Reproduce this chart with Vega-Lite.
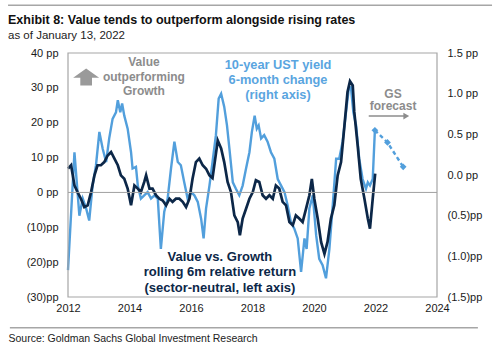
{
  "$schema": "https://vega.github.io/schema/vega-lite/v6.json",
  "width": 369,
  "height": 244,
  "autosize": {"type": "none"},
  "padding": {"left": 68, "top": 53, "right": 63, "bottom": 55},
  "background": "white",
  "config": {
    "view": {"stroke": null},
    "font": "Liberation Sans",
    "axis": {"grid": false, "domain": false, "ticks": false, "labelFont": "Liberation Sans", "labelFontSize": 11, "labelColor": "#1a1a1a", "labelOverlap": false}
  },
  "title": {
    "text": "Exhibit 8: Value tends to outperform alongside rising rates",
    "subtitle": "as of January 13, 2022",
    "anchor": "start",
    "frame": "group",
    "dx": -60,
    "offset": -37.5,
    "font": "Liberation Sans",
    "fontSize": 12.5,
    "fontWeight": "bold",
    "color": "#111111",
    "subtitleFont": "Liberation Sans",
    "subtitleFontSize": 11.5,
    "subtitleColor": "#222222",
    "subtitlePadding": 4
  },
  "datasets": {
    "one": [{"k": 1}],
    "ust": [
      {"t":2012.00,"v":-1.17},{"t":2012.21,"v":0.28},{"t":2012.31,"v":-0.21},{"t":2012.37,"v":-0.50},{"t":2012.48,"v":-0.29},{"t":2012.59,"v":-0.41},{"t":2012.69,"v":-0.56},{"t":2012.80,"v":-0.13},{"t":2012.91,"v":0.12},{"t":2013.02,"v":0.53},{"t":2013.13,"v":0.32},{"t":2013.24,"v":0.16},{"t":2013.34,"v":0.45},{"t":2013.45,"v":0.69},{"t":2013.56,"v":0.77},{"t":2013.62,"v":0.92},{"t":2013.70,"v":0.77},{"t":2013.76,"v":0.88},{"t":2013.83,"v":0.73},{"t":2013.94,"v":0.57},{"t":2014.05,"v":0.28},{"t":2014.10,"v":0.08},{"t":2014.21,"v":0.10},{"t":2014.27,"v":-0.13},{"t":2014.37,"v":-0.29},{"t":2014.48,"v":-0.25},{"t":2014.59,"v":-0.21},{"t":2014.70,"v":-0.29},{"t":2014.81,"v":-0.25},{"t":2014.92,"v":-0.29},{"t":2015.02,"v":-0.91},{"t":2015.13,"v":-0.45},{"t":2015.24,"v":-0.29},{"t":2015.35,"v":0.08},{"t":2015.46,"v":0.41},{"t":2015.57,"v":0.16},{"t":2015.67,"v":0.12},{"t":2015.78,"v":-0.09},{"t":2015.89,"v":-0.29},{"t":2016.00,"v":-0.21},{"t":2016.11,"v":-0.25},{"t":2016.22,"v":-0.33},{"t":2016.33,"v":-0.54},{"t":2016.41,"v":-0.78},{"t":2016.49,"v":-0.41},{"t":2016.60,"v":-0.13},{"t":2016.70,"v":0.16},{"t":2016.81,"v":0.49},{"t":2016.90,"v":0.94},{"t":2016.98,"v":1.00},{"t":2017.08,"v":0.84},{"t":2017.17,"v":0.61},{"t":2017.25,"v":0.32},{"t":2017.36,"v":-0.09},{"t":2017.46,"v":-0.17},{"t":2017.57,"v":-0.25},{"t":2017.68,"v":-0.13},{"t":2017.79,"v":0.08},{"t":2017.90,"v":0.28},{"t":2017.98,"v":0.53},{"t":2018.07,"v":0.73},{"t":2018.14,"v":0.57},{"t":2018.20,"v":0.61},{"t":2018.28,"v":0.45},{"t":2018.38,"v":0.49},{"t":2018.49,"v":0.41},{"t":2018.60,"v":0.28},{"t":2018.71,"v":0.20},{"t":2018.82,"v":-0.05},{"t":2018.93,"v":-0.13},{"t":2019.04,"v":-0.21},{"t":2019.14,"v":-0.37},{"t":2019.25,"v":-0.58},{"t":2019.36,"v":-0.66},{"t":2019.47,"v":-0.78},{"t":2019.58,"v":-1.19},{"t":2019.69,"v":-0.78},{"t":2019.76,"v":-0.91},{"t":2019.85,"v":-0.41},{"t":2019.96,"v":-0.25},{"t":2020.07,"v":-0.74},{"t":2020.17,"v":-1.03},{"t":2020.28,"v":-1.11},{"t":2020.39,"v":-1.27},{"t":2020.50,"v":-0.91},{"t":2020.61,"v":-0.37},{"t":2020.72,"v":0.20},{"t":2020.82,"v":0.20},{"t":2020.93,"v":0.41},{"t":2021.04,"v":0.77},{"t":2021.13,"v":1.06},{"t":2021.20,"v":1.08},{"t":2021.28,"v":0.77},{"t":2021.37,"v":0.61},{"t":2021.47,"v":0.20},{"t":2021.58,"v":-0.05},{"t":2021.69,"v":-0.17},{"t":2021.75,"v":-0.09},{"t":2021.82,"v":-0.13},{"t":2021.91,"v":-0.05},{"t":2021.98,"v":0.55}
    ],
    "fc": [
      {"t":2021.98,"v":0.55},{"t":2022.39,"v":0.40},{"t":2022.90,"v":0.10}
    ],
    "vg": [
      {"t":2012.00,"v":6.8},{"t":2012.10,"v":7.8},{"t":2012.21,"v":2.0},{"t":2012.31,"v":0.1},{"t":2012.42,"v":-1.8},{"t":2012.53,"v":-4.2},{"t":2012.64,"v":-3.7},{"t":2012.75,"v":0.1},{"t":2012.86,"v":4.9},{"t":2012.96,"v":7.8},{"t":2013.07,"v":7.8},{"t":2013.18,"v":8.7},{"t":2013.29,"v":10.6},{"t":2013.40,"v":11.6},{"t":2013.51,"v":9.7},{"t":2013.62,"v":7.8},{"t":2013.72,"v":4.9},{"t":2013.83,"v":3.9},{"t":2013.94,"v":1.1},{"t":2014.05,"v":-3.7},{"t":2014.16,"v":2.0},{"t":2014.27,"v":1.1},{"t":2014.37,"v":0.1},{"t":2014.48,"v":3.0},{"t":2014.54,"v":4.9},{"t":2014.65,"v":1.1},{"t":2014.75,"v":1.1},{"t":2014.86,"v":-0.8},{"t":2014.97,"v":-1.8},{"t":2015.08,"v":-2.3},{"t":2015.19,"v":-3.7},{"t":2015.30,"v":-1.8},{"t":2015.40,"v":-2.7},{"t":2015.51,"v":-1.8},{"t":2015.62,"v":-1.8},{"t":2015.73,"v":-2.7},{"t":2015.84,"v":-4.2},{"t":2015.95,"v":-1.8},{"t":2016.05,"v":3.9},{"t":2016.16,"v":8.7},{"t":2016.27,"v":9.7},{"t":2016.38,"v":7.8},{"t":2016.49,"v":6.8},{"t":2016.60,"v":4.9},{"t":2016.70,"v":4.1},{"t":2016.87,"v":14.9},{"t":2016.98,"v":12.6},{"t":2017.08,"v":8.7},{"t":2017.19,"v":3.0},{"t":2017.30,"v":0.1},{"t":2017.41,"v":-6.6},{"t":2017.52,"v":-8.5},{"t":2017.59,"v":-12.3},{"t":2017.68,"v":-7.5},{"t":2017.79,"v":-4.7},{"t":2017.90,"v":-1.8},{"t":2018.01,"v":0.1},{"t":2018.11,"v":3.5},{"t":2018.22,"v":3.0},{"t":2018.33,"v":-0.8},{"t":2018.44,"v":-1.8},{"t":2018.55,"v":-0.8},{"t":2018.66,"v":-1.8},{"t":2018.76,"v":2.0},{"t":2018.87,"v":1.1},{"t":2018.98,"v":-2.7},{"t":2019.09,"v":-3.7},{"t":2019.20,"v":-8.5},{"t":2019.31,"v":-9.4},{"t":2019.41,"v":-6.6},{"t":2019.52,"v":-7.5},{"t":2019.63,"v":-8.5},{"t":2019.74,"v":-4.7},{"t":2019.85,"v":-0.8},{"t":2019.93,"v":3.9},{"t":2020.01,"v":-1.8},{"t":2020.12,"v":-7.5},{"t":2020.23,"v":-14.2},{"t":2020.34,"v":-17.6},{"t":2020.44,"v":-14.2},{"t":2020.55,"v":-7.5},{"t":2020.66,"v":-3.7},{"t":2020.77,"v":4.9},{"t":2020.88,"v":8.7},{"t":2020.99,"v":19.2},{"t":2021.09,"v":28.8},{"t":2021.17,"v":31.9},{"t":2021.26,"v":30.7},{"t":2021.31,"v":23.1},{"t":2021.42,"v":13.5},{"t":2021.52,"v":3.9},{"t":2021.64,"v":-1.8},{"t":2021.75,"v":-7.5},{"t":2021.82,"v":-10.4},{"t":2021.91,"v":-1.8},{"t":2021.99,"v":5.4}
    ]
  },
  "layer": [
    {
      "layer": [
        {
          "data": {"name": "ust"},
          "mark": {"type": "line", "color": "#529fdc", "strokeWidth": 2.4},
          "encoding": {
            "x": {"field": "t", "type": "quantitative", "scale": {"domain": [2012, 2024], "nice": false}, "axis": {"values": [2012, 2014, 2016, 2018, 2020, 2022, 2024], "format": "d", "labelPadding": 5, "labelFlush": false, "labelOverlap": false, "title": "Source: Goldman Sachs Global Investment Research", "titleAnchor": "start", "titleAlign": "left", "titleBaseline": "middle", "titleX": -60, "titleY": 41, "titleFont": "Liberation Sans", "titleFontSize": 10.5, "titleFontWeight": "normal", "titleColor": "#222222"}},
            "y": {"field": "v", "type": "quantitative", "title": null, "scale": {"domain": [-1.5, 1.5], "nice": false}, "axis": {"orient": "right", "values": [-1.5, -1, -0.5, 0, 0.5, 1, 1.5], "labelPadding": 10, "labelOverlap": false, "labelExpr": "datum.value < 0 ? '(' + format(-datum.value, '.1f') + ')pp' : format(datum.value, '.1f') + ' pp'"}}
          }
        },
        {
          "data": {"name": "fc"},
          "mark": {"type": "line", "color": "#529fdc", "strokeWidth": 2.4, "strokeDash": [4, 3], "point": {"shape": "diamond", "size": 45, "color": "#529fdc", "filled": true}},
          "encoding": {
            "x": {"field": "t", "type": "quantitative"},
            "y": {"field": "v", "type": "quantitative"}
          }
        }
      ]
    },
    {
      "data": {"name": "vg"},
      "mark": {"type": "line", "color": "#0c2748", "strokeWidth": 2.7},
      "encoding": {
        "x": {"field": "t", "type": "quantitative"},
        "y": {"field": "v", "type": "quantitative", "title": null, "scale": {"domain": [-30, 40], "nice": false}, "axis": {"orient": "left", "values": [-30, -20, -10, 0, 10, 20, 30, 40], "labelPadding": 10, "labelOverlap": false, "labelExpr": "datum.value < 0 ? '(' + format(-datum.value, 'd') + ')pp' : format(datum.value, 'd') + ' pp'"}}
      }
    },
    {
      "layer": [
        {
          "data": {"name": "one"},
          "mark": {"type": "rect", "fill": "white", "fillOpacity": 0, "stroke": "#a6a6a6", "strokeWidth": 1.2, "strokeOpacity": 1},
          "encoding": {"x": {"datum": 2012, "type": "quantitative"}, "x2": {"datum": 2024}, "y": {"datum": -30, "type": "quantitative", "scale": {"domain": [-30, 40], "nice": false}, "axis": null}, "y2": {"datum": 40}}
        },
        {
          "data": {"name": "one"},
          "mark": {"type": "rule", "color": "#a0a0a0", "strokeWidth": 1},
          "encoding": {"y": {"datum": 0, "type": "quantitative", "axis": null}}
        },
        {
          "data": {"name": "one"},
          "mark": {"type": "point", "shape": "M0,-0.65L1,0.05L0.45,0.05L0.45,0.65L-0.45,0.65L-0.45,0.05L-1,0.05Z", "size": 676, "filled": true, "color": "#9a9a9a", "opacity": 1, "strokeWidth": 0},
          "encoding": {"x": {"datum": 2012.59, "type": "quantitative"}, "y": {"datum": 33.1, "type": "quantitative", "axis": null}}
        },
        {
          "data": {"name": "one"},
          "mark": {"type": "text", "text": ["Value", "outperforming", "Growth"], "font": "Liberation Sans", "fontSize": 12, "fontWeight": "bold", "color": "#8c8c8c", "lineHeight": 14.7, "align": "center", "baseline": "middle"},
          "encoding": {"x": {"datum": 2014.47, "type": "quantitative"}, "y": {"datum": 37.4, "type": "quantitative", "axis": null}}
        },
        {
          "data": {"name": "one"},
          "mark": {"type": "text", "text": ["10-year UST yield", "6-month change", "(right axis)"], "font": "Liberation Sans", "fontSize": 12.8, "fontWeight": "bold", "color": "#5aa5e0", "lineHeight": 15, "align": "center", "baseline": "middle"},
          "encoding": {"x": {"datum": 2018.83, "type": "quantitative"}, "y": {"datum": 36.6, "type": "quantitative", "axis": null}}
        },
        {
          "data": {"name": "one"},
          "mark": {"type": "text", "text": ["Value vs. Growth", "rolling 6m relative return", "(sector-neutral, left axis)"], "font": "Liberation Sans", "fontSize": 13, "fontWeight": "bold", "color": "#0c2748", "lineHeight": 15.3, "align": "center", "baseline": "middle"},
          "encoding": {"x": {"datum": 2016.94, "type": "quantitative"}, "y": {"datum": -18.5, "type": "quantitative", "axis": null}}
        },
        {
          "data": {"name": "one"},
          "mark": {"type": "text", "text": ["GS", "forecast"], "font": "Liberation Sans", "fontSize": 12, "fontWeight": "bold", "color": "#8c8c8c", "lineHeight": 12.7, "align": "center", "baseline": "middle"},
          "encoding": {"x": {"datum": 2022.57, "type": "quantitative"}, "y": {"datum": 28.3, "type": "quantitative", "axis": null}}
        },
        {
          "data": {"name": "one"},
          "mark": {"type": "rule", "color": "#8c8c8c", "strokeWidth": 1.5},
          "encoding": {"x": {"datum": 2021.78, "type": "quantitative"}, "x2": {"datum": 2022.93}, "y": {"datum": 21.9, "type": "quantitative", "axis": null}}
        },
        {
          "data": {"name": "one"},
          "mark": {"type": "point", "shape": "triangle-right", "size": 45, "filled": true, "color": "#8c8c8c", "opacity": 1},
          "encoding": {"x": {"datum": 2023.0, "type": "quantitative"}, "y": {"datum": 21.9, "type": "quantitative", "axis": null}}
        },
        {
          "data": {"name": "one"},
          "mark": {"type": "rule", "color": "#a6a6a6", "strokeWidth": 1.5, "clip": false},
          "encoding": {"x": {"datum": 2010.05, "type": "quantitative"}, "x2": {"datum": 2025.79}, "y": {"datum": 53.7, "type": "quantitative", "axis": null}}
        },
        {
          "data": {"name": "one"},
          "mark": {"type": "rule", "color": "#a6a6a6", "strokeWidth": 1.5, "clip": false},
          "encoding": {"x": {"datum": 2010.11, "type": "quantitative"}, "x2": {"datum": 2025.33}, "y": {"datum": -38.8, "type": "quantitative", "axis": null}}
        }
      ]
    }
  ],
  "resolve": {"scale": {"y": "independent"}}
}
